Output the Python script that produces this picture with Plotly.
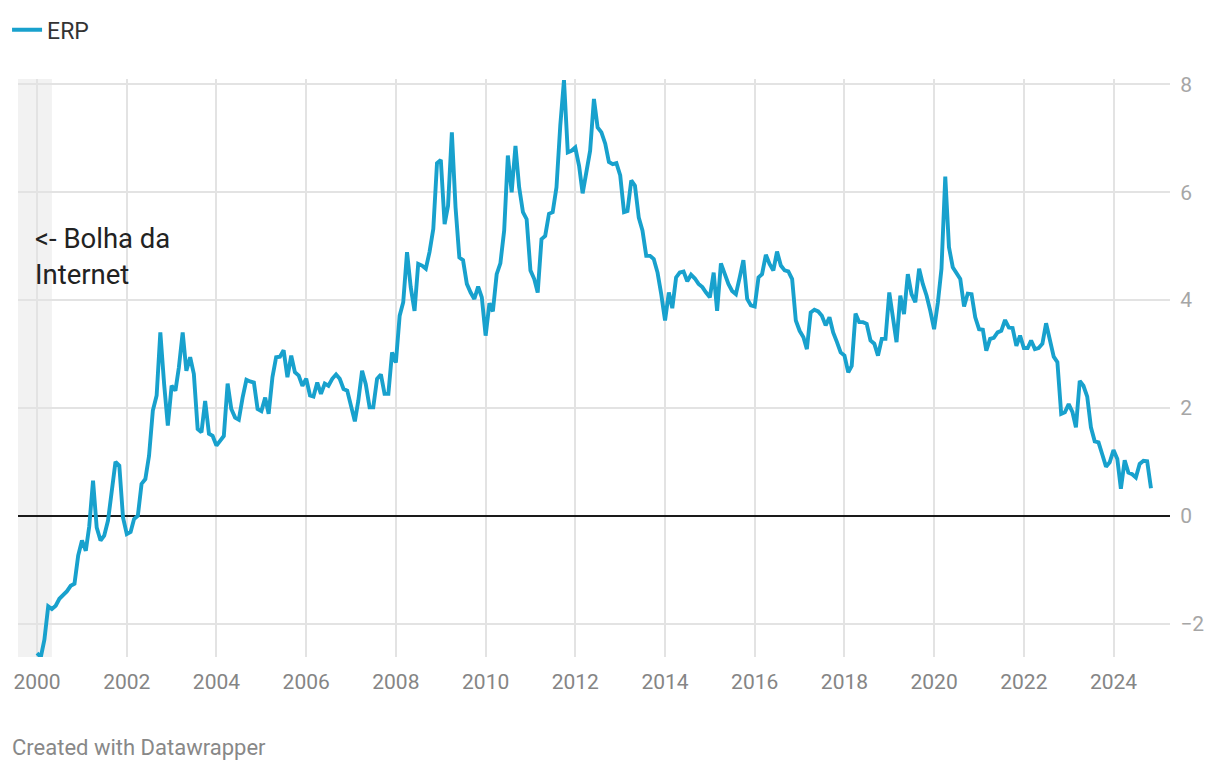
import pandas as pd
import plotly.graph_objects as go

# Monthly ERP values, Jan 2000 onward
erp = [
    # 2000
    -2.55, -2.62, -2.30, -1.68, -1.73, -1.67, -1.54, -1.47, -1.40, -1.30, -1.26, -0.74,
    # 2001
    -0.46, -0.65, -0.20, 0.65, -0.22, -0.46, -0.37, -0.09, 0.45, 1.00, 0.93, -0.03,
    # 2002
    -0.34, -0.30, -0.06, 0.00, 0.59, 0.68, 1.11, 1.95, 2.23, 3.40, 2.44, 1.67,
    # 2003
    2.41, 2.32, 2.75, 3.40, 2.69, 2.94, 2.63, 1.61, 1.55, 2.13, 1.52, 1.48,
    # 2004
    1.30, 1.38, 1.48, 2.45, 1.98, 1.82, 1.78, 2.19, 2.52, 2.49, 2.47, 1.98,
    # 2005
    1.94, 2.19, 1.89, 2.57, 2.94, 2.95, 3.07, 2.57, 2.97, 2.66, 2.60, 2.41,
    # 2006
    2.54, 2.23, 2.21, 2.47, 2.26, 2.45, 2.41, 2.54, 2.62, 2.54, 2.35, 2.32,
    # 2007
    2.04, 1.75, 2.13, 2.69, 2.44, 2.01, 2.01, 2.54, 2.62, 2.26, 2.26, 3.03,
    # 2008
    2.84, 3.71, 3.96, 4.89, 4.24, 3.80, 4.67, 4.64, 4.58, 4.89, 5.32, 6.54,
    # 2009
    6.60, 5.41, 5.75, 7.11, 5.72, 4.79, 4.74, 4.30, 4.14, 4.02, 4.25, 4.05,
    # 2010
    3.34, 3.94, 3.79, 4.48, 4.68, 5.29, 6.68, 6.00, 6.86, 6.09, 5.63, 5.50,
    # 2011
    4.55, 4.39, 4.14, 5.13, 5.19, 5.60, 5.63, 6.09, 7.24, 8.08, 6.74, 6.77,
    # 2012
    6.83, 6.49, 5.98, 6.40, 6.77, 7.73, 7.20, 7.11, 6.90, 6.56, 6.52, 6.54,
    # 2013
    6.31, 5.63, 5.65, 6.22, 6.12, 5.53, 5.29, 4.82, 4.82, 4.76, 4.51, 4.11,
    # 2014
    3.62, 4.14, 3.85, 4.42, 4.51, 4.53, 4.35, 4.47, 4.40, 4.30, 4.24, 4.14,
    # 2015
    4.05, 4.51, 3.80, 4.68, 4.48, 4.30, 4.17, 4.11, 4.42, 4.74, 4.02, 3.90,
    # 2016
    3.88, 4.42, 4.48, 4.84, 4.67, 4.55, 4.90, 4.64, 4.55, 4.53, 4.39, 3.62,
    # 2017
    3.43, 3.31, 3.09, 3.77, 3.82, 3.79, 3.71, 3.53, 3.68, 3.40, 3.22, 3.03,
    # 2018
    2.97, 2.66, 2.78, 3.75, 3.59, 3.59, 3.56, 3.25, 3.19, 2.97, 3.28, 3.28,
    # 2019
    4.14, 3.65, 3.22, 4.08, 3.74, 4.48, 4.11, 3.96, 4.58, 4.30, 4.08, 3.80,
    # 2020
    3.46, 3.96, 4.58, 6.29, 4.98, 4.61, 4.51, 4.39, 3.88, 4.12, 4.11, 3.68,
    # 2021
    3.46, 3.45, 3.06, 3.28, 3.30, 3.40, 3.43, 3.63, 3.49, 3.48, 3.15, 3.34,
    # 2022
    3.11, 3.11, 3.25, 3.09, 3.11, 3.19, 3.57, 3.22, 2.95, 2.85, 1.89, 1.92,
    # 2023
    2.07, 1.92, 1.64, 2.50, 2.41, 2.21, 1.64, 1.38, 1.36, 1.14, 0.91, 0.99,
    # 2024
    1.22, 1.05, 0.50, 1.03, 0.80, 0.77, 0.71, 0.96, 1.02, 1.01, 0.51,
]
dates = pd.date_range("2000-01-01", periods=len(erp), freq="MS")

series_name = "ERP"
y_ticks = [-2, 0, 2, 4, 6, 8]
y_tick_labels = ["\u22122", "0", "2", "4", "6", "8"]
x_tick_years = list(range(2000, 2025, 2))
band_start, band_end = "1999-07-30", "2000-05-01"
annotation_text = "<- Bolha da<br>Internet"

LINE = "#18a1cd"

fig = go.Figure()
fig.add_trace(go.Scatter(
    x=dates, y=erp, mode="lines", name=series_name,
    line=dict(color=LINE, width=3.9),
))

fig.add_shape(type="rect", xref="x", yref="paper",
              x0=band_start, x1=band_end, y0=0, y1=1,
              fillcolor="#f2f2f2", line_width=0, layer="below")

fig.add_annotation(text=annotation_text, xref="paper", yref="y",
                   x=0.013, y=4.8, xanchor="left", yanchor="middle",
                   align="left", showarrow=False,
                   font=dict(family="Roboto", size=27.5, color="#222222"))

fig.add_annotation(text="Created with Datawrapper", xref="paper", yref="paper",
                   x=-0.0069, y=-0.157, xanchor="left", yanchor="middle",
                   showarrow=False,
                   font=dict(family="Roboto", size=22, color="#888888"))

fig.update_layout(
    width=1220, height=774,
    margin=dict(l=10, r=58, t=71, b=125, autoexpand=False),
    paper_bgcolor="white", plot_bgcolor="white",
    font=dict(family="Roboto"),
    showlegend=True,
    legend=dict(x=-0.0095, y=1.085, xanchor="left", yanchor="middle",
                orientation="h", font=dict(size=23, color="#333333"),
                itemwidth=30, bgcolor="rgba(0,0,0,0)"),
    xaxis=dict(
        type="date",
        range=["1999-07-30", "2025-04-05"],
        tickvals=[f"{y}-01-01" for y in x_tick_years],
        ticktext=[str(y) for y in x_tick_years],
        showgrid=True, gridcolor="#e3e3e3", gridwidth=1.5,
        ticks="outside", ticklen=6, tickcolor="rgba(0,0,0,0)",
        tickfont=dict(size=21, color="#858585"),
        showline=False, zeroline=False,
    ),
    yaxis=dict(
        side="right",
        range=[-2.62, 8.1],
        tickvals=y_ticks, ticktext=y_tick_labels,
        showgrid=True, gridcolor="#e3e3e3", gridwidth=1.5,
        zeroline=True, zerolinecolor="#1a1a1a", zerolinewidth=1.5,
        ticks="outside", ticklen=5, tickcolor="rgba(0,0,0,0)",
        tickfont=dict(size=21, color="#a6a6a6"),
        showline=False,
    ),
)

fig.write_html("out.html")
